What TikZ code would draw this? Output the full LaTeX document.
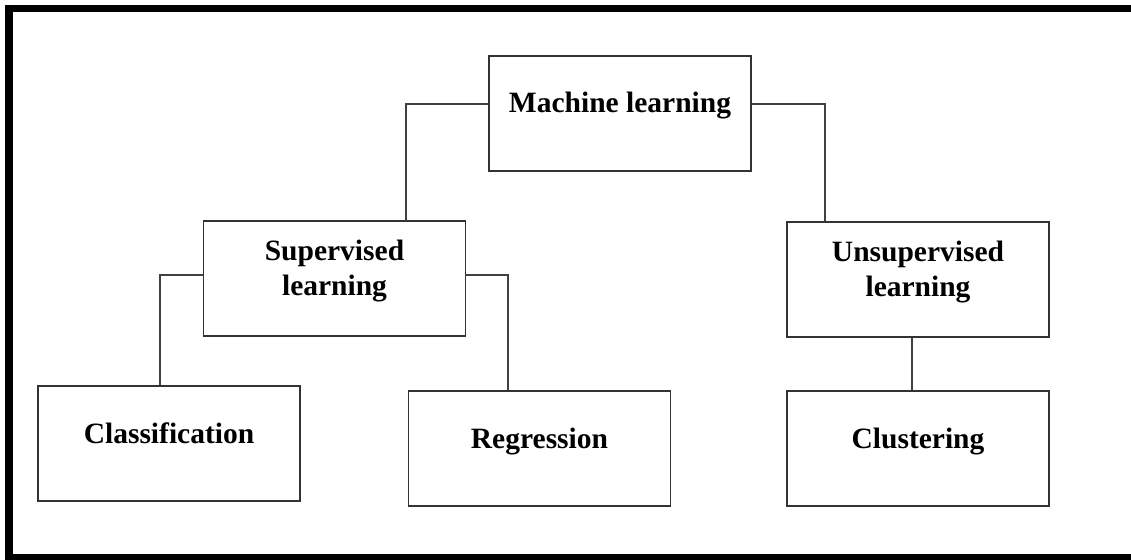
\documentclass[tikz,border=0pt]{standalone}
\usepackage{fontspec}
\setmainfont{Liberation Serif}
\usetikzlibrary{positioning}

\begin{document}
\begin{tikzpicture}[x=1pt, y=-1pt,
	box/.style={draw=black!80, line width=1.6pt, rectangle, inner sep=0pt,
		minimum width=262pt, minimum height=115pt, align=center,
		font=\fontsize{29.5}{35}\selectfont\bfseries},
	oneline/.style={text height=20pt, text depth=21pt},
	twoline/.style={text depth=21pt},
	link/.style={draw=black!75, line width=1.5pt}]
	
	% ---- (A) page and frame ----
	\useasboundingbox (0,0) rectangle (1131,559);
	\fill[white] (0,0) rectangle (1131,559);
	\draw[line width=7.5pt] (1140,8.5) -- (9,8.5) -- (9,557.5) -- (1140,557.5);
	
	% ---- (B) boxes ----
	\node[box, oneline] (ml) at (620,113.5) {Machine learning};
	\node[box, twoline] (sup) at (334.5,278.5) {Supervised\\learning};
	\node[box, twoline] (unsup) at (918,279.5) {Unsupervised\\learning};
	\node[box, oneline] (cls) at (169,443.5) {Classification};
	\node[box, oneline] (reg) at (539.5,448.5) {Regression};
	\node[box, oneline] (clu) at (918,448.5) {Clustering};
	
	% ---- (C) connectors ----
	% from the top box down to the two families
	\draw[link] ([yshift=9.5pt]ml.west) -| ([xshift=71.5pt]sup.north);
	\draw[link] ([yshift=9.5pt]ml.east) -| ([xshift=-93pt]unsup.north);
	
	% from the families down to the tasks
	\draw[link] ([yshift=3.5pt]sup.west) -| ([xshift=-9pt]cls.north);
	\draw[link] ([yshift=3.5pt]sup.east) -| ([xshift=-31.5pt]reg.north);
	\draw[link] ([xshift=-6pt]unsup.south) -- ([xshift=-6pt]clu.north);
	
\end{tikzpicture}
\end{document}
